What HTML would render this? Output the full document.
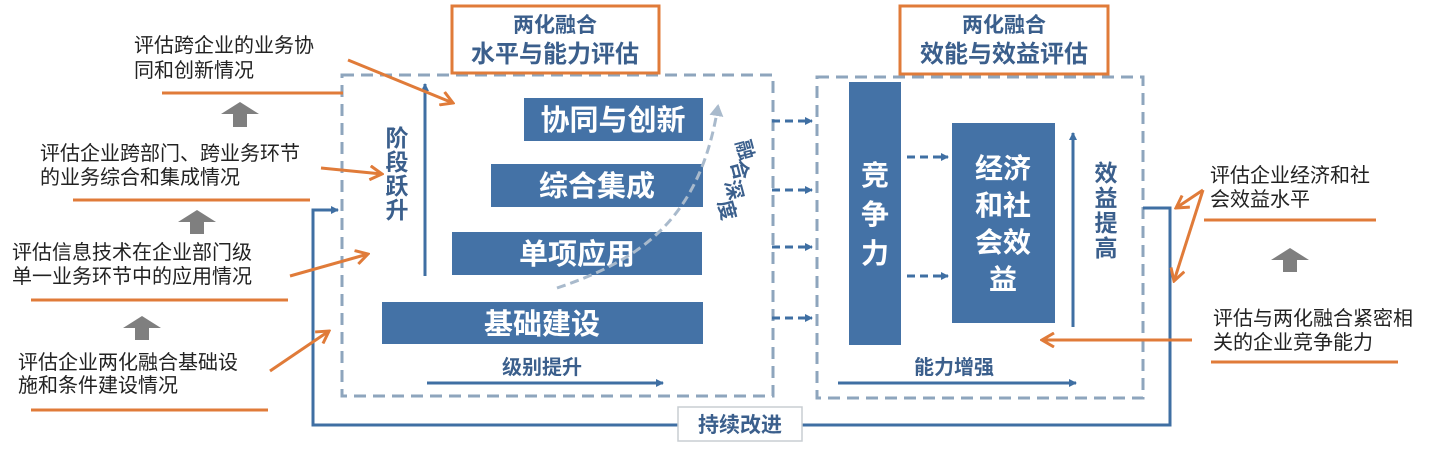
<!DOCTYPE html>
<html><head><meta charset="utf-8"><style>
html,body{margin:0;padding:0;background:#fff;width:1449px;height:454px;overflow:hidden}
svg text{font-family:"Liberation Sans","Noto Sans CJK SC",sans-serif}
</style></head><body>
<svg width="1449" height="454" viewBox="0 0 1449 454" xmlns="http://www.w3.org/2000/svg">
<defs>
<marker id="ab" markerWidth="8" markerHeight="8" refX="7" refY="4" orient="auto" markerUnits="userSpaceOnUse"><path d="M0,0 L8,4 L0,8 z" fill="#3f6fa3"/></marker>
<marker id="ao" markerWidth="16" markerHeight="16" refX="14" refY="8" orient="auto" markerUnits="userSpaceOnUse"><path d="M2,1 L14,8 L2,15" fill="none" stroke="#e07b39" stroke-width="3"/></marker>
<marker id="al" markerWidth="14" markerHeight="14" refX="10" refY="7" orient="auto" markerUnits="userSpaceOnUse"><path d="M0,0 L12,7 L0,14 z" fill="#a9bacc"/></marker>
</defs>

<rect x="342" y="75" width="431" height="321" fill="none" stroke="#8ea5bd" stroke-width="3" stroke-dasharray="12,7"/>
<rect x="817" y="77" width="326" height="321" fill="none" stroke="#8ea5bd" stroke-width="3" stroke-dasharray="12,7"/>

<rect x="452" y="6" width="207" height="67" fill="#fff" stroke="#e07b39" stroke-width="3"/>
<text x="555" y="32" text-anchor="middle" font-size="21" font-weight="bold" fill="#3b5f8c">两化融合</text>
<text x="555" y="62" text-anchor="middle" font-size="24" font-weight="bold" fill="#3b5f8c">水平与能力评估</text>
<rect x="900" y="6" width="208" height="68" fill="#fff" stroke="#e07b39" stroke-width="3"/>
<text x="1004" y="32" text-anchor="middle" font-size="21" font-weight="bold" fill="#3b5f8c">两化融合</text>
<text x="1004" y="62" text-anchor="middle" font-size="24" font-weight="bold" fill="#3b5f8c">效能与效益评估</text>

<g fill="#4472a6">
<rect x="524" y="98" width="179" height="43"/>
<rect x="491" y="164" width="212" height="43"/>
<rect x="452" y="232" width="250" height="43"/>
<rect x="382" y="302" width="321" height="42"/>
</g>
<g fill="#fff" font-size="29" font-weight="bold" text-anchor="middle">
<text x="613" y="130">协同与创新</text>
<text x="597" y="196">综合集成</text>
<text x="577" y="264">单项应用</text>
<text x="542" y="334">基础建设</text>
</g>

<line x1="425" y1="276" x2="425" y2="84" stroke="#3f6fa3" stroke-width="3" marker-end="url(#ab)"/>
<g font-size="23" font-weight="bold" fill="#3b5f8c" text-anchor="middle">
<text x="397" y="146">阶</text><text x="397" y="170">段</text><text x="397" y="194">跃</text><text x="397" y="218">升</text>
</g>
<text x="542" y="374" text-anchor="middle" font-size="20" font-weight="bold" fill="#3b5f8c">级别提升</text>
<line x1="427" y1="383" x2="663" y2="383" stroke="#3f6fa3" stroke-width="3" marker-end="url(#ab)"/>

<path d="M557,288 C640,260 700,220 718,106" fill="none" stroke="#a9bacc" stroke-width="3" stroke-dasharray="9,5" marker-end="url(#al)"/>
<g font-size="20" font-weight="bold" fill="#3b5f8c" text-anchor="middle">
<text transform="translate(745,150) rotate(75)" x="0" y="7">融</text>
<text transform="translate(740,170) rotate(75)" x="0" y="7">合</text>
<text transform="translate(734,190) rotate(75)" x="0" y="7">深</text>
<text transform="translate(727,210) rotate(75)" x="0" y="7">度</text>
</g>

<g stroke="#3f6fa3" stroke-width="3" fill="none">
<path d="M772,121 L812,121" stroke-dasharray="8,5" marker-end="url(#ab)"/>
<path d="M772,190 L812,190" stroke-dasharray="8,5" marker-end="url(#ab)"/>
<path d="M772,247 L812,247" stroke-dasharray="8,5" marker-end="url(#ab)"/>
<path d="M772,318 L812,318" stroke-dasharray="8,5" marker-end="url(#ab)"/>
<path d="M907,157 L948,157" stroke-dasharray="8,5" marker-end="url(#ab)"/>
<path d="M907,276 L948,276" stroke-dasharray="8,5" marker-end="url(#ab)"/>
</g>

<rect x="849" y="82" width="52" height="263" fill="#4472a6"/>
<g fill="#fff" font-size="28" font-weight="bold" text-anchor="middle">
<text x="875" y="185">竞</text><text x="875" y="224">争</text><text x="875" y="263">力</text>
</g>
<rect x="952" y="123" width="103" height="200" fill="#4472a6"/>
<g fill="#fff" font-size="28" font-weight="bold" text-anchor="middle">
<text x="1003" y="178">经济</text><text x="1003" y="215">和社</text><text x="1003" y="252">会效</text><text x="1003" y="289">益</text>
</g>
<line x1="1073" y1="327" x2="1073" y2="133" stroke="#3f6fa3" stroke-width="3" marker-end="url(#ab)"/>
<g font-size="23" font-weight="bold" fill="#3b5f8c" text-anchor="middle">
<text x="1106" y="181">效</text><text x="1106" y="206">益</text><text x="1106" y="231">提</text><text x="1106" y="256">高</text>
</g>
<text x="954" y="374" text-anchor="middle" font-size="20" font-weight="bold" fill="#3b5f8c">能力增强</text>
<line x1="838" y1="383" x2="1076" y2="383" stroke="#3f6fa3" stroke-width="3" marker-end="url(#ab)"/>

<path d="M1143,208 L1170,208 L1170,425 L313,425 L313,210 L338,210" fill="none" stroke="#3f6fa3" stroke-width="3" marker-end="url(#ab)"/>
<rect x="678" y="407" width="124" height="34" fill="#fff" stroke="#c8cdd2" stroke-width="1.5"/>
<text x="740" y="432" text-anchor="middle" font-size="21" font-weight="bold" fill="#3b5f8c">持续改进</text>

<g font-size="20" fill="#222">
<text x="134" y="52">评估跨企业的业务协</text>
<text x="134" y="77">同和创新情况</text>
<text x="40" y="160">评估企业跨部门、跨业务环节</text>
<text x="40" y="184">的业务综合和集成情况</text>
<text x="12" y="259">评估信息技术在企业部门级</text>
<text x="12" y="283">单一业务环节中的应用情况</text>
<text x="18" y="369">评估企业两化融合基础设</text>
<text x="18" y="392">施和条件建设情况</text>
<text x="1210" y="182">评估企业经济和社</text>
<text x="1210" y="206">会效益水平</text>
<text x="1213" y="325">评估与两化融合紧密相</text>
<text x="1213" y="349">关的企业竞争能力</text>
</g>
<g stroke="#e07b39" stroke-width="3">
<line x1="162" y1="93" x2="343" y2="93"/>
<line x1="73" y1="200" x2="310" y2="200"/>
<line x1="31" y1="300" x2="288" y2="300"/>
<line x1="31" y1="410" x2="268" y2="410"/>
<line x1="1204" y1="220" x2="1376" y2="220"/>
<line x1="1211" y1="362" x2="1398" y2="362"/>
</g>
<g fill="#7f7f7f">
<path d="M221,114 L240,102 L259,114 L247,114 L247,127 L233,127 L233,114 z"/>
<path d="M178,222 L197,210 L216,222 L204,222 L204,234 L190,234 L190,222 z"/>
<path d="M123,328 L142,316 L161,328 L149,328 L149,340 L135,340 L135,328 z"/>
<path d="M1271,260 L1290,248 L1309,260 L1297,260 L1297,272 L1283,272 L1283,260 z"/>
</g>
<g stroke="#e07b39" stroke-width="3" fill="none">
<line x1="348" y1="60" x2="453" y2="103" marker-end="url(#ao)"/>
<line x1="321" y1="168" x2="382" y2="174" marker-end="url(#ao)"/>
<line x1="290" y1="276" x2="368" y2="254" marker-end="url(#ao)"/>
<line x1="270" y1="371" x2="329" y2="331" marker-end="url(#ao)"/>
<path d="M1203,190 L1176,208" marker-end="url(#ao)"/>
<path d="M1203,190 L1174,281" marker-end="url(#ao)"/>
<line x1="1192" y1="340" x2="1042" y2="340" marker-end="url(#ao)"/>
</g>
</svg>
</body></html>
